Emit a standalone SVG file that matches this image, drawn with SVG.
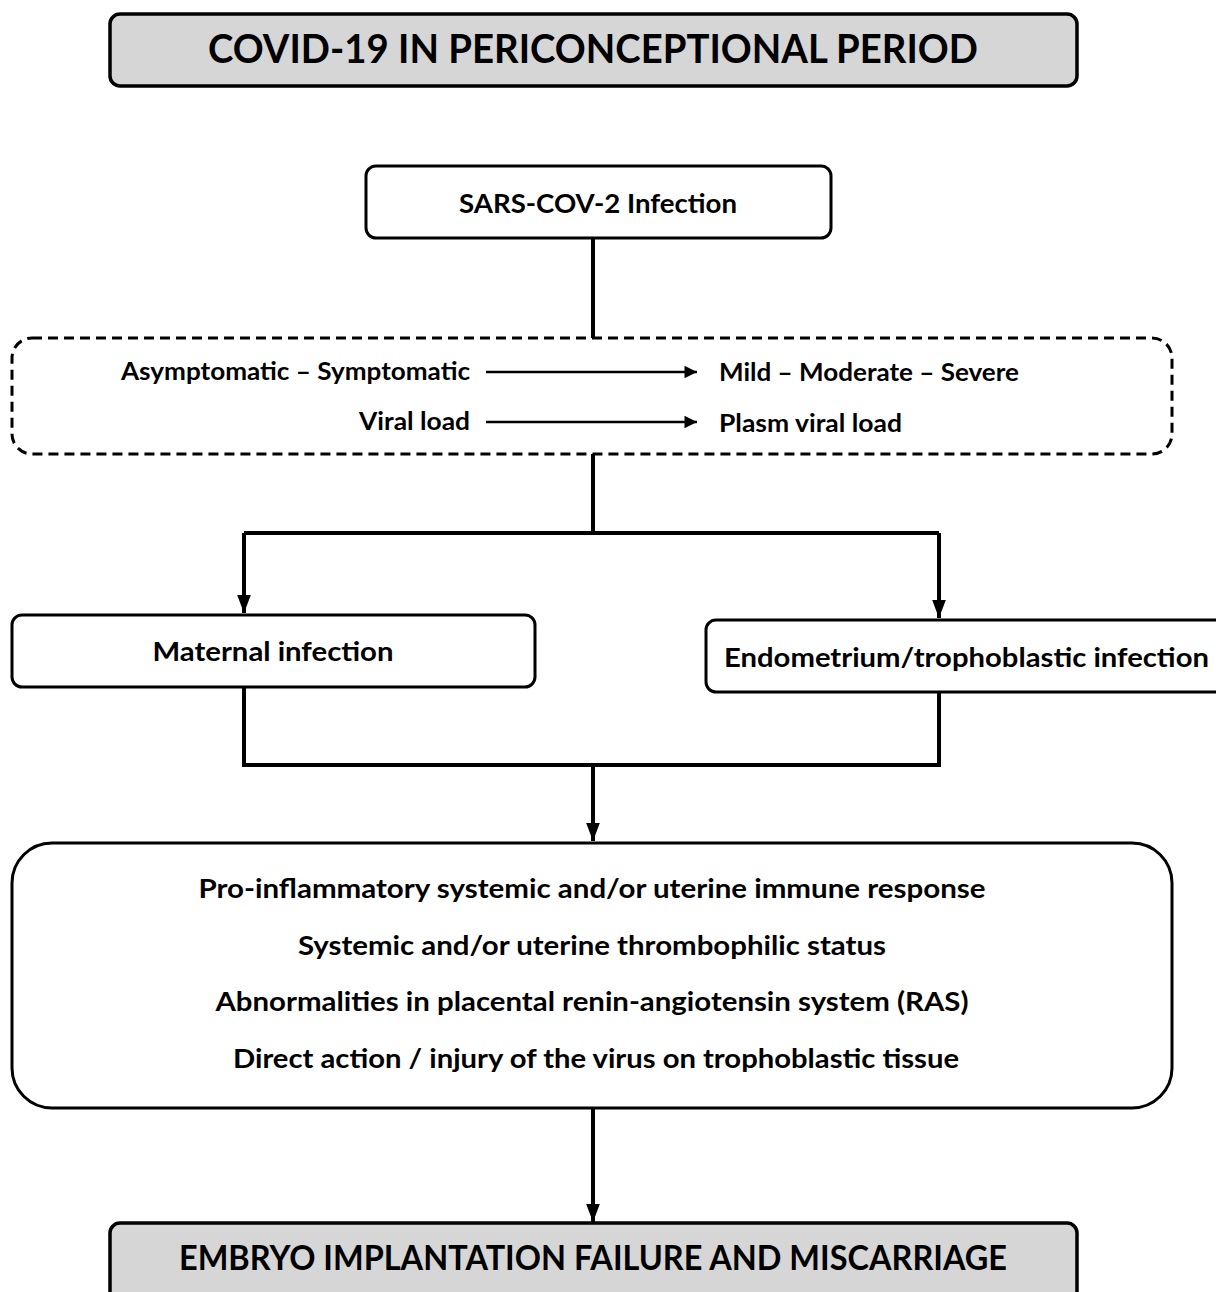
<svg xmlns="http://www.w3.org/2000/svg" width="1216" height="1292" viewBox="0 0 1216 1292">
<defs>
<marker id="ah" viewBox="0 0 10 10" refX="10" refY="5" markerWidth="4.5" markerHeight="4.5" orient="auto" markerUnits="strokeWidth"><path d="M0,1.2 L10,5 L0,8.8 z" fill="#000"/></marker>
<marker id="ahs" viewBox="0 0 10 10" refX="10" refY="5" markerWidth="7" markerHeight="5" orient="auto" markerUnits="strokeWidth"><path d="M0,0 L10,5 L0,10 z" fill="#000"/></marker>
</defs>
<style>
text{font-family:Lato,"Open Sans","Liberation Sans",sans-serif;font-weight:bold;fill:#000}
.box{fill:#fff;stroke:#000;stroke-width:3}
.gray{fill:#d6d6d6;stroke:#000;stroke-width:3.5}
.dash{fill:none;stroke:#000;stroke-width:3;stroke-dasharray:10,6}
.c{fill:none;stroke:#000;stroke-width:4}
.thin{fill:none;stroke:#000;stroke-width:2.5}
</style>
<rect width="1216" height="1292" fill="#fff"/>
<g id="title">
<rect class="gray" x="110" y="14" width="967" height="72" rx="10"/>
<text x="593" y="63" font-size="40" text-anchor="middle" textLength="770" lengthAdjust="spacingAndGlyphs">COVID-19 IN PERICONCEPTIONAL PERIOD</text>
</g>
<g id="connectors">
<path class="c" d="M593,238 V338"/>
<path class="c" d="M593,454 V533 M244,533 H939"/>
<path class="c" d="M244,533 V613" marker-end="url(#ah)"/>
<path class="c" d="M939,533 V618" marker-end="url(#ah)"/>
<path class="c" d="M244,687 V765 H939 V692"/>
<path class="c" d="M593,765 V841" marker-end="url(#ah)"/>
<path class="c" d="M593,1108 V1222" marker-end="url(#ah)"/>
<path class="thin" d="M486,372 H697" marker-end="url(#ahs)"/>
<path class="thin" d="M486,422 H697" marker-end="url(#ahs)"/>
</g>
<g id="sars">
<rect class="box" x="366" y="166" width="465" height="72" rx="10"/>
<text x="598" y="213" font-size="27" text-anchor="middle" textLength="278" lengthAdjust="spacingAndGlyphs">SARS-COV-2 Infection</text>
</g>
<g id="clinical">
<rect class="dash" x="12" y="338" width="1160" height="116" rx="20"/>
<text x="470" y="380" font-size="25" text-anchor="end" textLength="349" lengthAdjust="spacingAndGlyphs">Asymptomatic – Symptomatic</text>
<text x="470" y="430" font-size="25" text-anchor="end" textLength="111" lengthAdjust="spacingAndGlyphs">Viral load</text>
<text x="719" y="381" font-size="25" textLength="300" lengthAdjust="spacingAndGlyphs">Mild – Moderate – Severe</text>
<text x="719" y="432" font-size="25" textLength="183" lengthAdjust="spacingAndGlyphs">Plasm viral load</text>
</g>
<g id="maternal">
<rect class="box" x="12" y="615" width="523" height="72" rx="10"/>
<text x="273" y="661" font-size="27" text-anchor="middle" textLength="241" lengthAdjust="spacingAndGlyphs">Maternal infection</text>
</g>
<g id="endometrium">
<rect class="box" x="706" y="620" width="525" height="72" rx="10"/>
<text x="724" y="667" font-size="27" textLength="485" lengthAdjust="spacingAndGlyphs">Endometrium/trophoblastic infection</text>
</g>
<g id="mechanisms">
<rect class="box" x="12" y="843" width="1160" height="265" rx="40"/>
<text x="592" y="898" font-size="27" text-anchor="middle" textLength="787" lengthAdjust="spacingAndGlyphs">Pro-inflammatory systemic and/or uterine immune response</text>
<text x="592" y="955" font-size="27" text-anchor="middle" textLength="588" lengthAdjust="spacingAndGlyphs">Systemic and/or uterine thrombophilic status</text>
<text x="592" y="1011" font-size="27" text-anchor="middle" textLength="753" lengthAdjust="spacingAndGlyphs">Abnormalities in placental renin-angiotensin system (RAS)</text>
<text x="596" y="1068" font-size="27" text-anchor="middle" textLength="726" lengthAdjust="spacingAndGlyphs">Direct action / injury of the virus on trophoblastic tissue</text>
</g>
<g id="outcome">
<rect class="gray" x="110" y="1223" width="967" height="80" rx="10"/>
<text x="593" y="1270" font-size="35" text-anchor="middle" textLength="828" lengthAdjust="spacingAndGlyphs">EMBRYO IMPLANTATION FAILURE AND MISCARRIAGE</text>
</g>
</svg>
